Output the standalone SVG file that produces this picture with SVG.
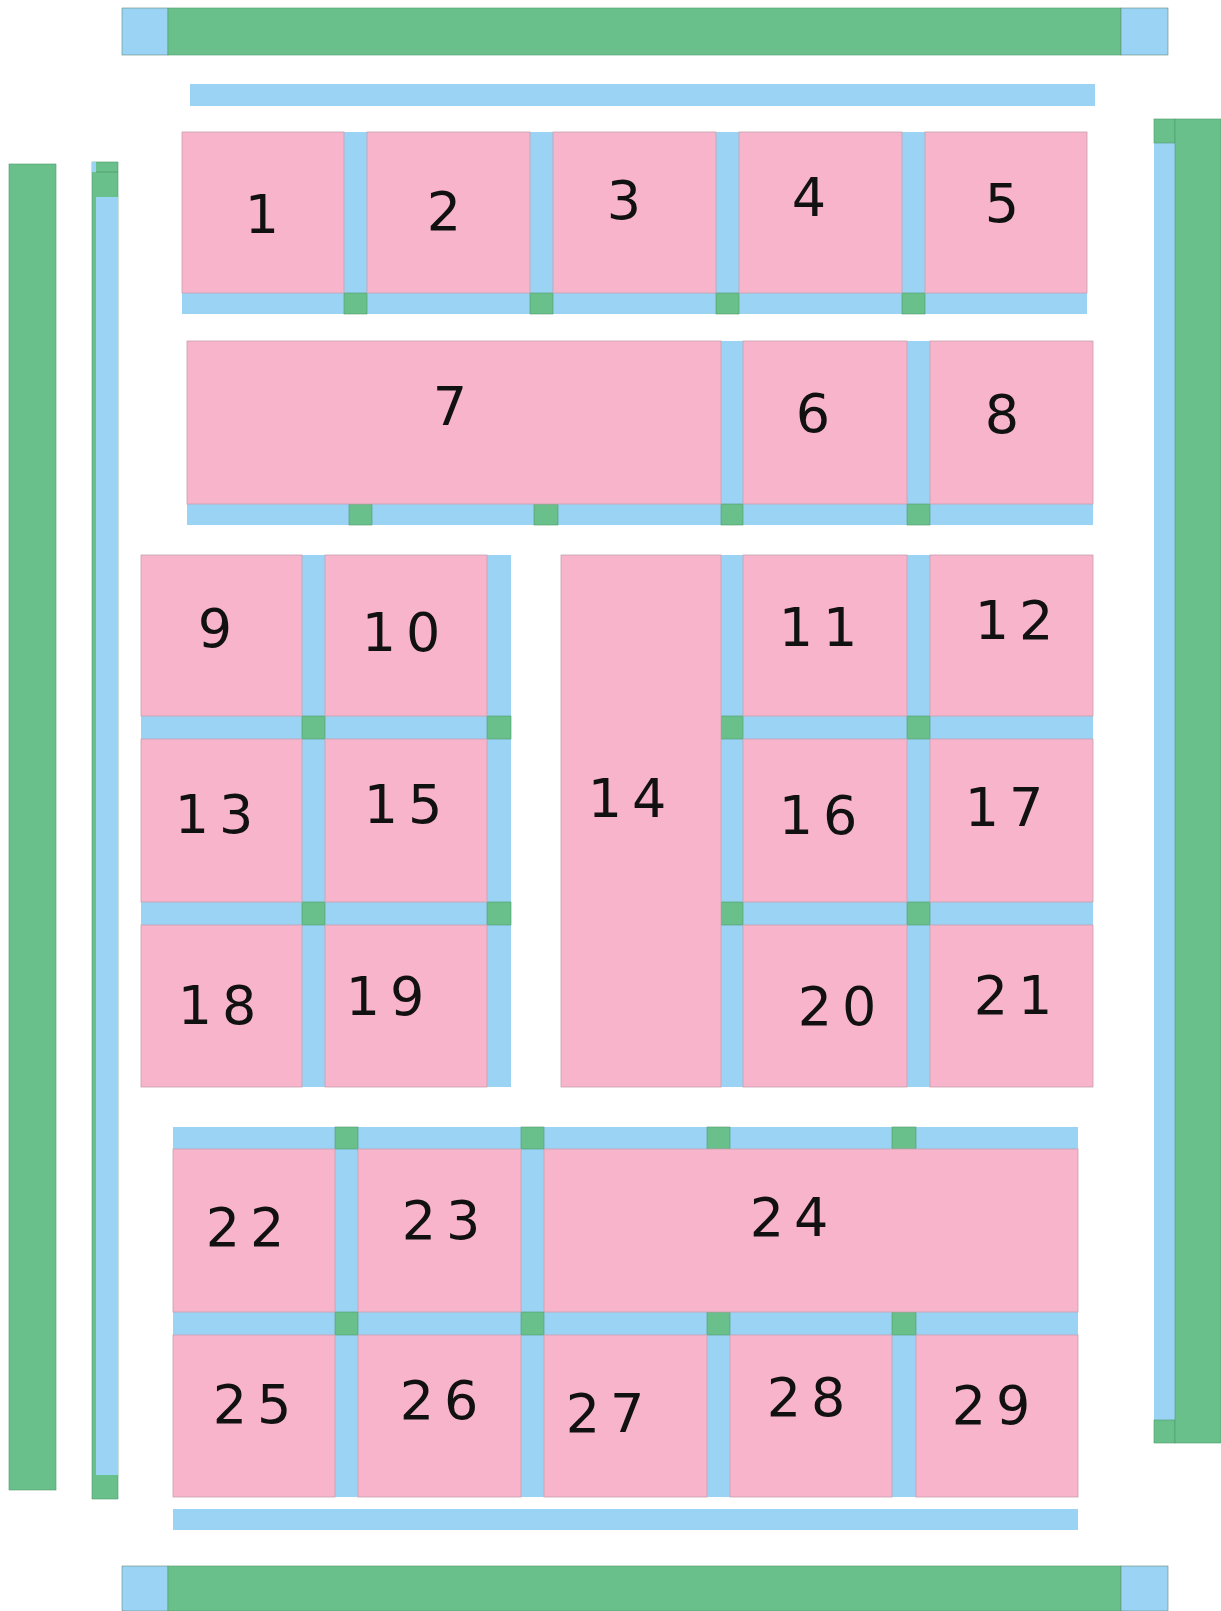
<svg xmlns="http://www.w3.org/2000/svg" width="1221" height="1611" viewBox="0 0 1221 1611">
<style>
.p{fill:#F7B4CB;stroke:#C9A0AE;stroke-width:0.8}
.b{fill:#9BD3F5}
.g{fill:#69C08B;stroke:#4E9A6C;stroke-width:0.6}
.t{font-family:"DejaVu Sans","Liberation Sans",sans-serif;font-size:54px;letter-spacing:10px;fill:#111;text-anchor:middle;dominant-baseline:central}
</style>
<rect width="1221" height="1611" fill="#fff"/>
<g id="frame">
<rect x="122" y="8" width="46" height="47" class="b" stroke="#6a8a7a" stroke-width="0.6"/>
<rect x="168" y="8" width="953" height="47" class="g"/>
<rect x="1121" y="8" width="47" height="47" class="b" stroke="#6a8a7a" stroke-width="0.6"/>
<rect x="190" y="84" width="905" height="22" class="b"/>
<rect x="122" y="1566" width="46" height="45" class="b" stroke="#6a8a7a" stroke-width="0.6"/>
<rect x="168" y="1566" width="953" height="45" class="g"/>
<rect x="1121" y="1566" width="47" height="45" class="b" stroke="#6a8a7a" stroke-width="0.6"/>
<rect x="173" y="1509" width="905" height="21" class="b"/>
<rect x="9" y="164" width="47" height="1326" class="g"/>
<rect x="92" y="162" width="26" height="1337" class="g"/>
<rect x="96" y="197" width="22" height="1278" class="b"/>
<rect x="92" y="162" width="4" height="10" class="b"/>
<line x1="96" y1="172" x2="118" y2="172" stroke="#4E9A6C" stroke-width="0.8"/>
<rect x="1154" y="119" width="21" height="1324" class="b"/>
<rect x="1154" y="119" width="21" height="24" class="g"/>
<rect x="1154" y="1420" width="21" height="23" class="g"/>
<rect x="1175" y="119" width="46" height="1324" class="g"/>
</g>
<g id="connectors">
<rect x="182" y="293" width="905" height="21" class="b"/>
<rect x="344" y="132" width="23" height="161" class="b"/>
<rect x="530" y="132" width="23" height="161" class="b"/>
<rect x="716" y="132" width="23" height="161" class="b"/>
<rect x="902" y="132" width="23" height="161" class="b"/>
<rect x="344" y="293" width="23" height="21" class="g"/>
<rect x="530" y="293" width="23" height="21" class="g"/>
<rect x="716" y="293" width="23" height="21" class="g"/>
<rect x="902" y="293" width="23" height="21" class="g"/>
<rect x="187" y="504" width="906" height="21" class="b"/>
<rect x="721" y="341" width="22" height="163" class="b"/>
<rect x="907" y="341" width="23" height="163" class="b"/>
<rect x="349" y="504" width="23" height="21" class="g"/>
<rect x="534" y="504" width="24" height="21" class="g"/>
<rect x="721" y="504" width="22" height="21" class="g"/>
<rect x="907" y="504" width="23" height="21" class="g"/>
<rect x="302" y="555" width="23" height="532" class="b"/>
<rect x="487" y="555" width="24" height="532" class="b"/>
<rect x="141" y="716" width="370" height="23" class="b"/>
<rect x="141" y="902" width="370" height="23" class="b"/>
<rect x="302" y="716" width="23" height="23" class="g"/>
<rect x="487" y="716" width="24" height="23" class="g"/>
<rect x="302" y="902" width="23" height="23" class="g"/>
<rect x="487" y="902" width="24" height="23" class="g"/>
<rect x="721" y="555" width="22" height="532" class="b"/>
<rect x="907" y="555" width="23" height="532" class="b"/>
<rect x="721" y="716" width="372" height="23" class="b"/>
<rect x="721" y="902" width="372" height="23" class="b"/>
<rect x="721" y="716" width="22" height="23" class="g"/>
<rect x="907" y="716" width="23" height="23" class="g"/>
<rect x="721" y="902" width="22" height="23" class="g"/>
<rect x="907" y="902" width="23" height="23" class="g"/>
<rect x="173" y="1127" width="905" height="22" class="b"/>
<rect x="173" y="1312" width="905" height="23" class="b"/>
<rect x="335" y="1149" width="23" height="348" class="b"/>
<rect x="521" y="1149" width="23" height="348" class="b"/>
<rect x="707" y="1335" width="23" height="162" class="b"/>
<rect x="892" y="1335" width="24" height="162" class="b"/>
<rect x="335" y="1127" width="23" height="22" class="g"/>
<rect x="521" y="1127" width="23" height="22" class="g"/>
<rect x="707" y="1127" width="23" height="22" class="g"/>
<rect x="892" y="1127" width="24" height="22" class="g"/>
<rect x="335" y="1312" width="23" height="23" class="g"/>
<rect x="521" y="1312" width="23" height="23" class="g"/>
<rect x="707" y="1312" width="23" height="23" class="g"/>
<rect x="892" y="1312" width="24" height="23" class="g"/>
</g>
<g id="n1"><rect x="182" y="132" width="162" height="161" class="p"/><text x="267" y="214" class="t">1</text></g>
<g id="n2"><rect x="367" y="132" width="163" height="161" class="p"/><text x="449" y="211" class="t">2</text></g>
<g id="n3"><rect x="553" y="132" width="163" height="161" class="p"/><text x="629" y="200" class="t">3</text></g>
<g id="n4"><rect x="739" y="132" width="163" height="161" class="p"/><text x="814" y="197" class="t">4</text></g>
<g id="n5"><rect x="925" y="132" width="162" height="161" class="p"/><text x="1007" y="203" class="t">5</text></g>
<g id="n7"><rect x="187" y="341" width="534" height="163" class="p"/><text x="455" y="406" class="t">7</text></g>
<g id="n6"><rect x="743" y="341" width="164" height="163" class="p"/><text x="818" y="413" class="t">6</text></g>
<g id="n8"><rect x="930" y="341" width="163" height="163" class="p"/><text x="1007" y="414" class="t">8</text></g>
<g id="n9"><rect x="141" y="555" width="161" height="161" class="p"/><text x="220" y="628" class="t">9</text></g>
<g id="n10"><rect x="325" y="555" width="162" height="161" class="p"/><text x="406" y="632" class="t">10</text></g>
<g id="n13"><rect x="141" y="739" width="161" height="163" class="p"/><text x="219" y="814" class="t">13</text></g>
<g id="n15"><rect x="325" y="739" width="162" height="163" class="p"/><text x="408" y="804" class="t">15</text></g>
<g id="n18"><rect x="141" y="925" width="161" height="162" class="p"/><text x="222" y="1005" class="t">18</text></g>
<g id="n19"><rect x="325" y="925" width="162" height="162" class="p"/><text x="390" y="996" class="t">19</text></g>
<g id="n14"><rect x="561" y="555" width="160" height="532" class="p"/><text x="632" y="798" class="t">14</text></g>
<g id="n11"><rect x="743" y="555" width="164" height="161" class="p"/><text x="823" y="627" class="t">11</text></g>
<g id="n12"><rect x="930" y="555" width="163" height="161" class="p"/><text x="1019" y="620" class="t">12</text></g>
<g id="n16"><rect x="743" y="739" width="164" height="163" class="p"/><text x="823" y="815" class="t">16</text></g>
<g id="n17"><rect x="930" y="739" width="163" height="163" class="p"/><text x="1009" y="807" class="t">17</text></g>
<g id="n20"><rect x="743" y="925" width="164" height="162" class="p"/><text x="842" y="1006" class="t">20</text></g>
<g id="n21"><rect x="930" y="925" width="163" height="162" class="p"/><text x="1018" y="995" class="t">21</text></g>
<g id="n22"><rect x="173" y="1149" width="162" height="163" class="p"/><text x="250" y="1227" class="t">22</text></g>
<g id="n23"><rect x="358" y="1149" width="163" height="163" class="p"/><text x="446" y="1220" class="t">23</text></g>
<g id="n24"><rect x="544" y="1149" width="534" height="163" class="p"/><text x="794" y="1217" class="t">24</text></g>
<g id="n25"><rect x="173" y="1335" width="162" height="162" class="p"/><text x="257" y="1404" class="t">25</text></g>
<g id="n26"><rect x="358" y="1335" width="163" height="162" class="p"/><text x="444" y="1400" class="t">26</text></g>
<g id="n27"><rect x="544" y="1335" width="163" height="162" class="p"/><text x="610" y="1413" class="t">27</text></g>
<g id="n28"><rect x="730" y="1335" width="162" height="162" class="p"/><text x="811" y="1397" class="t">28</text></g>
<g id="n29"><rect x="916" y="1335" width="162" height="162" class="p"/><text x="996" y="1405" class="t">29</text></g>
</svg>
